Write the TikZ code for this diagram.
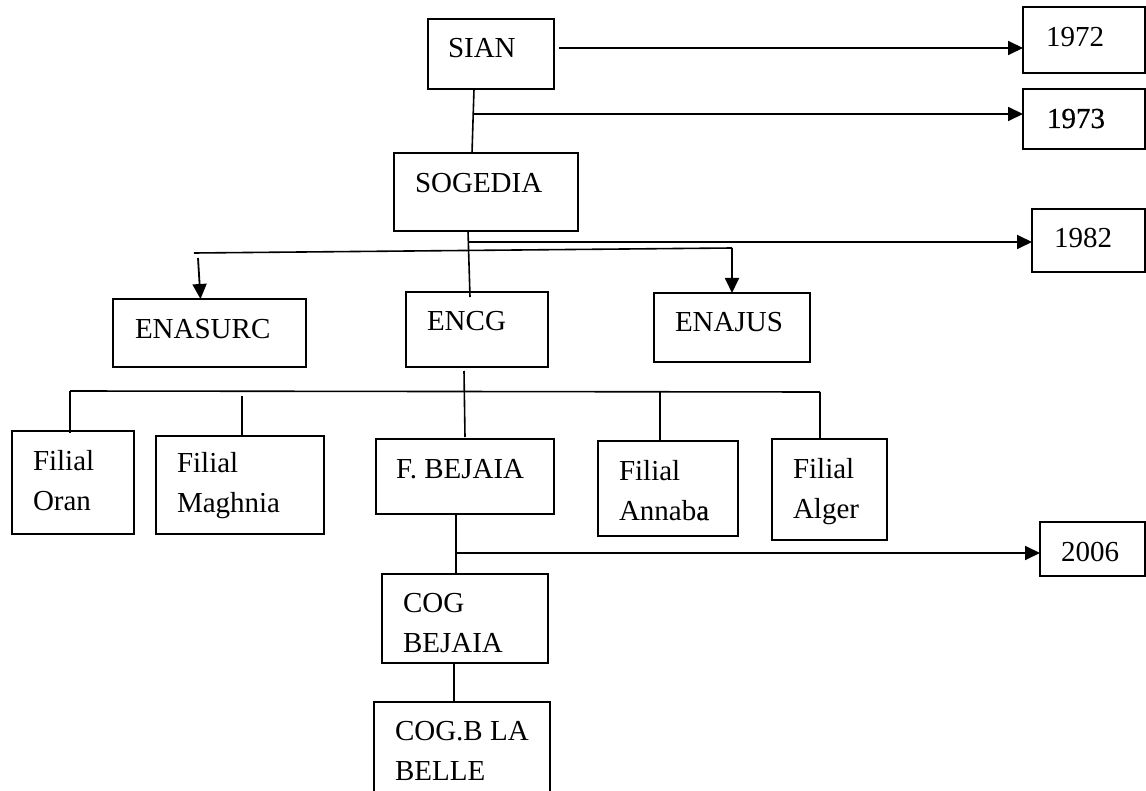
\documentclass[tikz,border=0pt]{standalone}
\usepackage{fontspec}
\setmainfont{Liberation Serif}
\newfontfamily\heavyserif[FakeBold=0.6]{Liberation Serif}
\usetikzlibrary{fit,arrows.meta}
\newcommand{\twolines}[2]{\begin{tabular}[t]{@{}l@{}}#1\\#2\end{tabular}}
\begin{document}
\begin{tikzpicture}[x=0.5pt,y=-0.5pt,
  box/.style={draw, line width=1pt, inner sep=0pt, outer sep=0pt},
  txt/.style={anchor=base west, inner sep=0pt, outer sep=0pt, font=\fontsize{14.5}{20}\selectfont},
  conn/.style={line width=0.8pt},
  arr/.style={line width=0.9pt, -{Triangle[length=7.5pt,width=7pt]}}]
\useasboundingbox (0,0) rectangle (1146,791);
\clip (0,0) rectangle (1146,791);

% boxes
\node[box, fit={(428,19) (554,89)}] (sian) {};
\node[box, fit={(1023,7) (1145,73)}] (y1972) {};
\node[box, fit={(1023,89) (1145,149)}] (y1973) {};
\node[box, fit={(394,153) (578,231)}] (sogedia) {};
\node[box, fit={(1032,209) (1145,272)}] (y1982) {};
\node[box, fit={(113,299) (306,367)}] (enasurc) {};
\node[box, fit={(406,292) (548,367)}] (encg) {};
\node[box, fit={(654,293) (810,362)}] (enajus) {};
\node[box, fit={(12,431) (134,534)}] (oran) {};
\node[box, fit={(156,436) (324,534)}] (maghnia) {};
\node[box, fit={(376,439) (554,514)}] (fbejaia) {};
\node[box, fit={(598,441) (738,536)}] (annaba) {};
\node[box, fit={(772,439) (887,540)}] (alger) {};
\node[box, fit={(1040,522) (1145,576)}] (y2006) {};
\node[box, fit={(382,574) (548,663)}] (cogbej) {};
\node[box, fit={(374,702) (550,820)}] (cogb) {};

% texts
\node[txt] (sian-t) at (448,58) {SIAN};
\node[txt] (y1972-t) at (1046,47) {1972};
\node[txt] (y1973-t) at (1047,128) {\heavyserif 1973};
\node[txt] (sogedia-t) at (415,193) {SOGEDIA};
\node[txt] (y1982-t) at (1054,248) {1982};
\node[txt] (enasurc-t) at (135,338) {ENASURC};
\node[txt] (encg-t) at (427,330) {ENCG};
\node[txt] (enajus-t) at (675,332) {ENAJUS};
\node[txt] (oran-t) at (33,470) {\twolines{Filial}{Oran}};
\node[txt] (maghnia-t) at (177,472) {\twolines{Filial}{Maghnia}};
\node[txt] (fbejaia-t) at (396,478) {F. BEJAIA};
\node[txt] (annaba-t) at (619,480) {\twolines{Filial}{Annab{\heavyserif a}}};
\node[txt] (alger-t) at (793,478) {\twolines{Filial}{Alger}};
\node[txt] (y2006-t) at (1061,561) {2006};
\node[txt] (cogbej-t) at (403,612) {\twolines{COG}{BEJAIA}};
\node[txt] (cogb-t) at (395,740) {\twolines{COG.B LA}{BELLE}};

% SIAN level
\draw[arr] ([shift={(5,-6)}]sian.east) coordinate (a1) -- (a1 -| y1972.west);
\draw[conn] ([shift={(46,0)}]sian.south west) -- ([shift={(78,0)}]sogedia.north west);
\coordinate (j2) at (473.6,114);
\draw[arr] (j2) -- (j2 -| y1973.west);

% SOGEDIA level
\draw[conn] ([shift={(74,0)}]sogedia.south west) -- ([shift={(64,5)}]encg.north west);
\coordinate (j3) at (469,242);
\draw[arr] (j3) -- (j3 -| y1982.west);
\coordinate (c1) at (194,253);
\coordinate (c2) at ([shift={(0,-45)}]enajus.north);
\draw[conn] (c1) -- (c2);
\draw[arr] (c2) -- (enajus.north);
\coordinate (c3) at (198,258);
\draw[arr] (c3) -- ([shift={(-9,0)}]enasurc.north);

% ENCG level
\draw[conn] ([shift={(-13,4)}]encg.south) -- ([shift={(0,-2)}]fbejaia.north);
\coordinate (b1) at (70,391);
\coordinate (b2) at (820,392);
\draw[conn] (b1) -- (b2);
\draw[conn] (b1) -- ([shift={(-3,2)}]oran.north);
\draw[conn] (242,396) -- ([shift={(2,-1)}]maghnia.north);
\draw[conn] (660,391.8) -- ([shift={(-8,0)}]annaba.north);
\draw[conn] (b2) -- ([shift={(-9.5,0)}]alger.north);

% F. BEJAIA level
\draw[conn] ([shift={(-9,0)}]fbejaia.south) -- ([shift={(-9,0)}]cogbej.north);
\coordinate (j4) at (456,553);
\draw[arr] (j4) -- (j4 -| y2006.west);
\draw[conn] ([shift={(-11,0)}]cogbej.south) -- ([shift={(-8,0)}]cogb.north);
\end{tikzpicture}
\end{document}
